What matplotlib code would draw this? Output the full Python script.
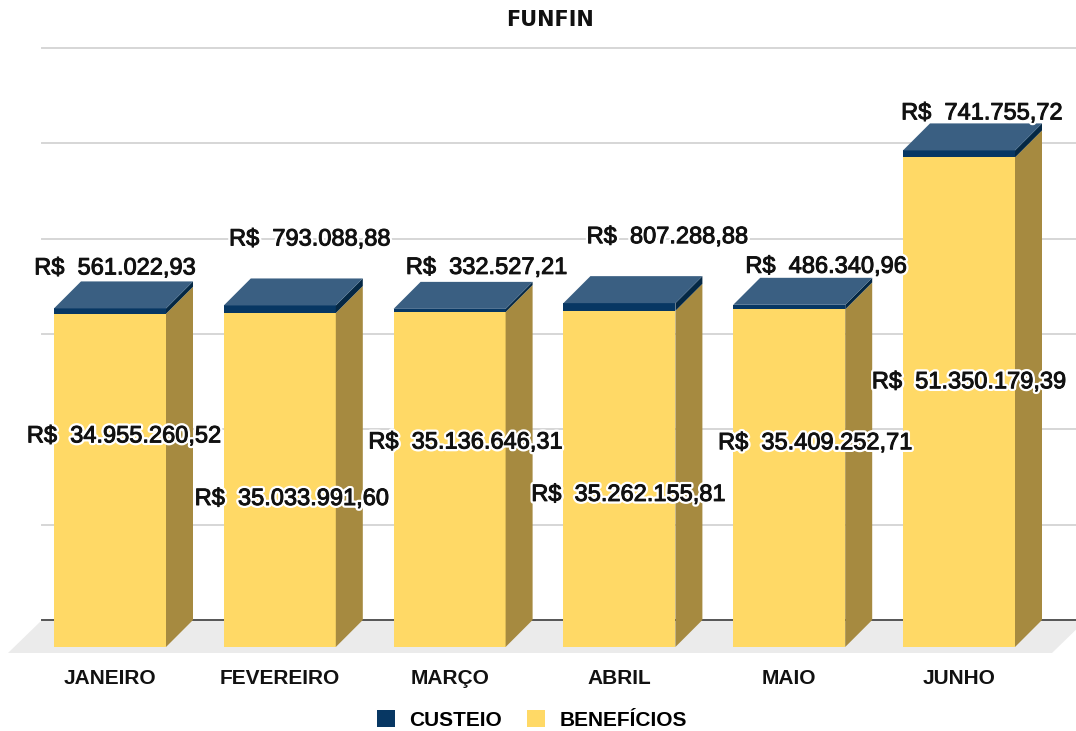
import matplotlib
matplotlib.use("Agg")
import matplotlib.pyplot as plt
import matplotlib.patheffects as pe
from matplotlib.patches import Polygon
import numpy as np

# data
meses = ["JANEIRO", "FEVEREIRO", "MARÇO", "ABRIL", "MAIO", "JUNHO"]
custeio = [561022.93, 793088.88, 332527.21, 807288.88, 486340.96, 741755.72]
beneficios = [34955260.52, 35033991.60, 35136646.31, 35262155.81, 35409252.71, 51350179.39]

# label nudges in pixels (x right, y up), mimics the original placement
off_custeio = [(5, 34), (30, 60), (37, 35), (48, 60), (37, 32), (23, 31)]
off_benef = [(14, 38), (12, -25), (16, 31), (9, -22), (26, 29), (10, 14)]

navy = "#073763"
navy_top = "#3a5f82"
navy_side = "#052844"
yellow = "#ffd966"
yellow_side = "#a68a40"

W, H = 1076, 731
slot = 169.8           # px between bar centres
px_per_unit = 9.533e-6  # px per R$
depth = 27              # px of 3d depth

fig = plt.figure(figsize=(W / 100, H / 100), dpi=100)
ax = fig.add_axes([0, 84 / H, 1, 647 / H])
ax.set_xlim(-110 / slot, (W - 110) / slot)
ax.set_ylim(0, 647 / px_per_unit)
for s in ax.spines.values():
    s.set_visible(False)
ax.set_yticks([])

DX = depth / slot
DY = depth / px_per_unit

x = np.arange(len(meses))
bw = 112 / slot

# floor
fl = Polygon([(-102 / slot, -6 / px_per_unit),
              (-68 / slot, DY), (942 / slot + 0.2, DY),
              (942 / slot, -6 / px_per_unit)],
             closed=True, facecolor="#ebebeb", edgecolor="none",
             clip_on=False, zorder=0)
ax.add_patch(fl)

# grid lines on the back wall
for v in np.arange(0, 70e6, 10e6):
    c = "#555555" if v == 0 else "#d6d6d6"
    ax.plot([-68 / slot, 7], [v + DY, v + DY], color=c, lw=1.4,
            zorder=1, clip_on=False)

b1 = ax.bar(x, beneficios, width=bw, color=yellow, zorder=3, label="BENEFÍCIOS")
b2 = ax.bar(x, custeio, width=bw, bottom=beneficios, color=navy, zorder=3,
            label="CUSTEIO")

def side(rect, col):
    x1 = rect.get_x() + rect.get_width()
    y0 = rect.get_y()
    y1 = y0 + rect.get_height()
    ax.add_patch(Polygon([(x1, y0), (x1 + DX, y0 + DY), (x1 + DX, y1 + DY), (x1, y1)],
                         closed=True, facecolor=col, edgecolor="none", zorder=3))

for r in b1:
    side(r, yellow_side)
for r in b2:
    side(r, navy_side)
    x0 = r.get_x()
    x1 = x0 + r.get_width()
    y1 = r.get_y() + r.get_height()
    ax.add_patch(Polygon([(x0, y1), (x0 + DX, y1 + DY), (x1 + DX, y1 + DY), (x1, y1)],
                         closed=True, facecolor=navy_top, edgecolor="none", zorder=3))


def brl(v):
    s = f"{v:,.2f}".replace(",", "X").replace(".", ",").replace("X", ".")
    return "R$  " + s


halo = [pe.Stroke(linewidth=4, foreground="white"),
        pe.Stroke(linewidth=0.7, foreground="#111111"),
        pe.Normal()]
lab_font = dict(family="Liberation Sans", size=17, color="#111111")
for i in range(len(meses)):
    top = beneficios[i] + custeio[i]
    ax.annotate(brl(custeio[i]), (x[i], top), xytext=off_custeio[i],
                textcoords="offset pixels", ha="center", va="baseline",
                path_effects=halo, zorder=6, annotation_clip=False, **lab_font)
    ax.annotate(brl(beneficios[i]), (x[i], beneficios[i] / 2), xytext=off_benef[i],
                textcoords="offset pixels", ha="center", va="baseline",
                path_effects=halo, zorder=6, annotation_clip=False, **lab_font)

ax.set_xticks(x, meses)
ax.tick_params(axis="x", length=0, pad=16)
for t in ax.get_xticklabels():
    t.set_fontfamily("Liberation Sans")
    t.set_fontweight("bold")
    t.set_fontsize(15)
    t.set_color("#111111")

fig.text(550 / W, 1 - 26.5 / H, "FUNFIN", ha="center", va="baseline",
         family="DejaVu Sans", weight="bold", size=15, color="#111111")

fig.legend(handles=[b2, b1], loc="center", bbox_to_anchor=(532 / W, 1 - 720 / H),
           ncol=2, frameon=False, handlelength=0.85, handleheight=0.85,
           handletextpad=0.7, columnspacing=1.2,
           prop=dict(family="Liberation Sans", weight="bold", size=15))

fig.savefig("out.png", dpi=100)
